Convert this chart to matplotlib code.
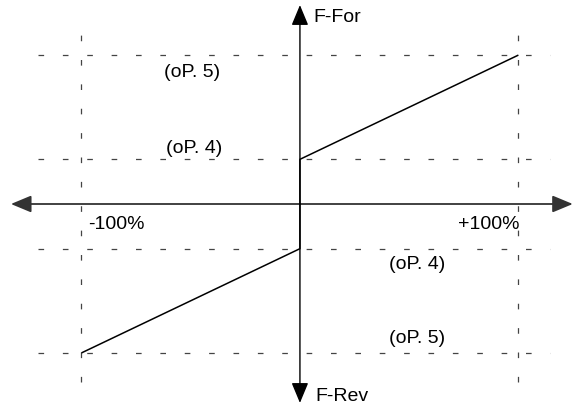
import matplotlib
matplotlib.use("Agg")
import matplotlib.pyplot as plt

plt.rcParams['font.family'] = ['Liberation Sans', 'DejaVu Sans']

# Data (x in % of input, y in frequency units)
x_points = [-100, 0, 0, 100]
freq_points = [-100, -30, 30, 100]
op4 = 30
op5 = 100
x_ref = [-100, 100]
x_labels = ['-100%', '+100%']
op_labels = ['(oP. 4)', '(oP. 5)']
axis_labels = ['F-For', 'F-Rev']

fig = plt.figure(figsize=(5.73, 4.08), dpi=100)
ax = fig.add_axes([0, 0, 1, 1])
ax.set_xlim(-137.3, 125.0)
ax.set_ylim(-137.0, 137.0)
ax.axis('off')

dash = (0, (4.5, 15))
gcol = '#444444'
# Horizontal dashed reference lines
for yv in [op5, op4, -op4, -op5]:
    ax.plot([-120, 114.5], [yv, yv], color=gcol, lw=0.9, linestyle=dash, zorder=1)
# Vertical dashed reference lines
for xv in x_ref:
    ax.plot([xv, xv], [-119.5, 117.5], color=gcol, lw=0.9, linestyle=dash, zorder=1)

# Axes arrows
ap = dict(arrowstyle='-|>,head_length=1.25,head_width=0.52', color='black',
          lw=1.0, shrinkA=0, shrinkB=0, mutation_scale=10)
ax.annotate('', xy=(-132.3, 0), xytext=(0, 0), arrowprops=dict(ap, color='#333333', lw=1.3), zorder=2)
ax.annotate('', xy=(124.9, 0), xytext=(0, 0), arrowprops=dict(ap, color='#333333', lw=1.3), zorder=2)
ax.annotate('', xy=(0, 133.6), xytext=(0, 0), arrowprops=ap, zorder=3)
ax.annotate('', xy=(0, -133.6), xytext=(0, 0), arrowprops=ap, zorder=3)

# Characteristic curve
ax.plot(x_points, freq_points, color='black', lw=1.1, zorder=4, solid_capstyle='butt')

fs = 14
ax.text(-49.4, op5 - 12, op_labels[1], fontsize=fs, ha='center', va='center')
ax.text(-48.5, op4 + 7.6, op_labels[0], fontsize=fs, ha='center', va='center')
ax.text(53.5, -op4 - 10.9, op_labels[0], fontsize=fs, ha='center', va='center')
ax.text(53.5, -op5 + 9.4, op_labels[1], fontsize=fs, ha='center', va='center')
ax.text(x_ref[0] + 3, -14, x_labels[0], fontsize=fs, ha='left', va='center')
ax.text(x_ref[1] + 0.7, -14, x_labels[1], fontsize=fs, ha='right', va='center')
ax.text(6, 125.5, axis_labels[0], fontsize=fs, ha='left', va='center')
ax.text(6.9, -129.5, axis_labels[1], fontsize=fs, ha='left', va='center')

fig.savefig('out.png', dpi=100)
